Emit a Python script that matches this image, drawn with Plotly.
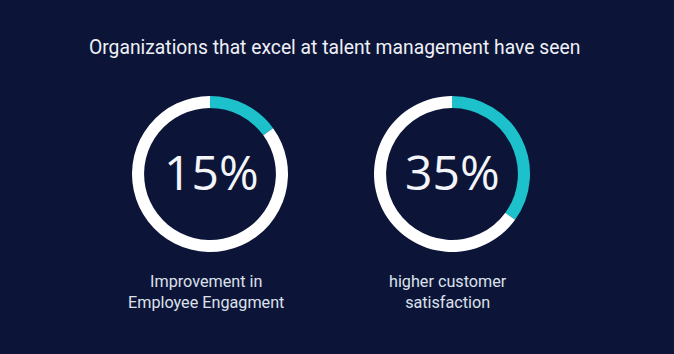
import plotly.graph_objects as go

title = "Organizations that excel at talent management have seen"
percents = [15, 35]
labels = ["Improvement in<br>Employee Engagment", "higher customer<br>satisfaction"]

bg = "#0c1538"
cyan = "#1cc1cc"
white = "#ffffff"

W, H = 674, 354
centers_x = [210, 452]
center_y = 174
R = 78

fig = go.Figure()
for i, p in enumerate(percents):
    cx = centers_x[i]
    fig.add_trace(go.Pie(
        values=[p, 100 - p],
        marker=dict(colors=[cyan, white], line=dict(width=0)),
        hole=0.845,
        sort=False,
        direction="clockwise",
        rotation=0,
        textinfo="none",
        hoverinfo="skip",
        showlegend=False,
        domain=dict(x=[(cx - R) / W, (cx + R) / W],
                    y=[(H - center_y - R) / H, (H - center_y + R) / H]),
    ))
    fig.add_annotation(x=(cx + 1) / W, y=(H - 171) / H, xref="paper", yref="paper",
                       text=f"{p}%", showarrow=False, xanchor="center", yanchor="middle",
                       font=dict(family="Open Sans", size=48, color="#f4f5f8"))
    fig.add_annotation(x=(cx - 4) / W, y=(H - 292) / H, xref="paper", yref="paper",
                       text=labels[i], showarrow=False, xanchor="center", yanchor="middle",
                       align="center",
                       font=dict(family="Roboto", size=16.2, color="#dde1ec"))

fig.add_annotation(x=334 / W, y=(H - 47) / H, xref="paper", yref="paper",
                   text=title, showarrow=False, xanchor="center", yanchor="middle",
                   font=dict(family="Roboto", size=19.3, color="#eef0f6"))

fig.update_layout(width=W, height=H, margin=dict(l=0, r=0, t=0, b=0),
                  paper_bgcolor=bg, plot_bgcolor=bg)
fig.write_html("out.html")
